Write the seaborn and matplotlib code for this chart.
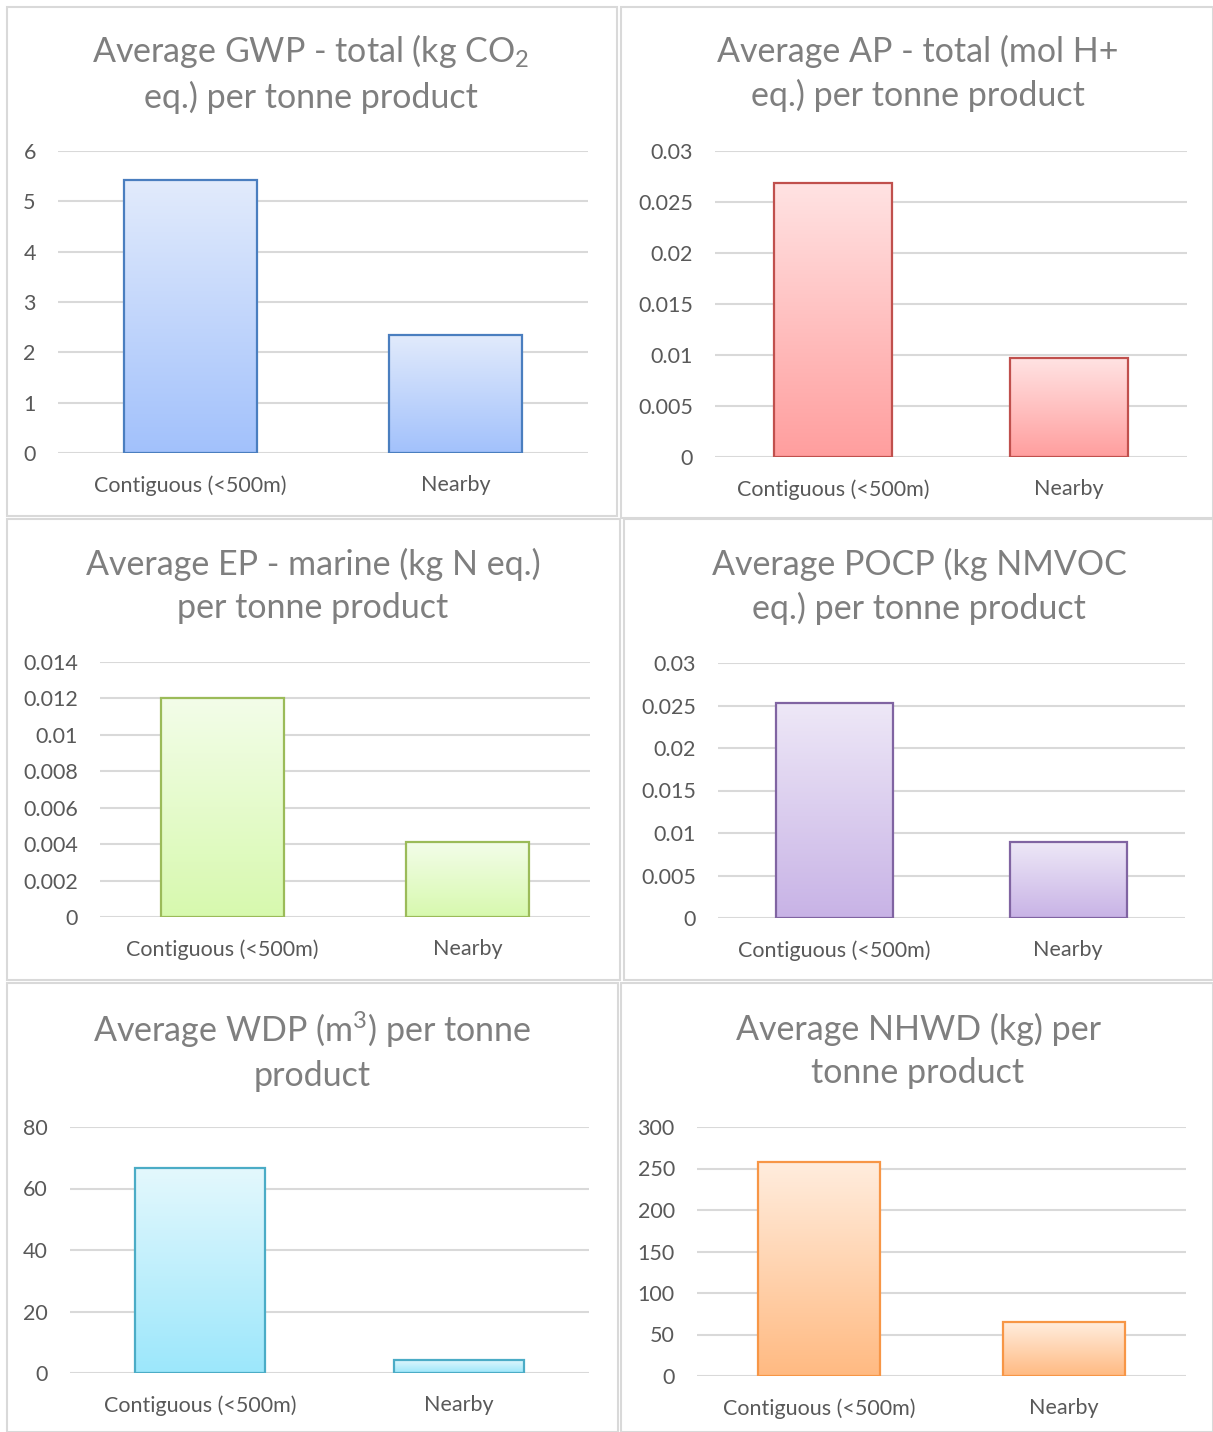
import numpy as np
import pandas as pd
import matplotlib.pyplot as plt
import seaborn as sns
from matplotlib.colors import to_rgb
from matplotlib.patches import Rectangle

# categories and per-panel values
categories = ["Contiguous (<500m)", "Nearby"]
gwp = [5.42, 2.35]
ap = [0.0269, 0.0097]
ep = [0.0120, 0.0041]
pocp = [0.0253, 0.0090]
wdp = [66.8, 4.3]
nhwd = [258, 65]

titles = [
    "Average GWP - total (kg CO$_2$\neq.) per tonne product",
    "Average AP - total (mol H+\neq.) per tonne product",
    "Average EP - marine (kg N eq.)\nper tonne product",
    "Average POCP (kg NMVOC\neq.) per tonne product",
    "Average WDP (m$^3$) per tonne\nproduct",
    "Average NHWD (kg) per\ntonne product",
]
yticks = [
    [0, 1, 2, 3, 4, 5, 6],
    [0, 0.005, 0.01, 0.015, 0.02, 0.025, 0.03],
    [0, 0.002, 0.004, 0.006, 0.008, 0.01, 0.012, 0.014],
    [0, 0.005, 0.01, 0.015, 0.02, 0.025, 0.03],
    [0, 20, 40, 60, 80],
    [0, 50, 100, 150, 200, 250, 300],
]
ytick_labels = [
    ["0", "1", "2", "3", "4", "5", "6"],
    ["0", "0.005", "0.01", "0.015", "0.02", "0.025", "0.03"],
    ["0", "0.002", "0.004", "0.006", "0.008", "0.01", "0.012", "0.014"],
    ["0", "0.005", "0.01", "0.015", "0.02", "0.025", "0.03"],
    ["0", "20", "40", "60", "80"],
    ["0", "50", "100", "150", "200", "250", "300"],
]
series = [gwp, ap, ep, pocp, wdp, nhwd]

# gradient (top, bottom) and outline colours, Excel style
fills = [
    ("#E2EBFC", "#A2C1FB", "#4A7EBF"),
    ("#FFE3E3", "#FF9E9E", "#C0504D"),
    ("#F3FDE9", "#D7F9AE", "#9BBB59"),
    ("#EEE8F7", "#C8B3E6", "#8064A2"),
    ("#E4F8FD", "#9CE7FB", "#4BACC6"),
    ("#FFEDDE", "#FFBA82", "#F79646"),
]

W, H = 1213, 1432
# panel frames (x0, y0, x1, y1) in pixels
frames = [
    (7, 7, 617, 516), (621, 7, 1213, 518),
    (7, 519, 620, 980), (624, 519, 1213, 980),
    (7, 983, 618, 1432), (621, 983, 1213, 1432),
]
# plot areas (x0, ytop, x1, ybottom) in pixels
areas = [
    (58, 151, 588, 453), (715, 151, 1187, 457),
    (100, 662, 590, 917), (718, 663, 1185, 918),
    (70, 1127, 589, 1373), (697, 1127, 1186, 1376),
]
title_pos = [(311, 73), (918, 73), (313, 586), (919, 586), (312, 1051), (918, 1051)]

sns.set_theme(style="white")
plt.rcParams['font.family'] = ['Lato', 'DejaVu Sans']
plt.rcParams['mathtext.fontset'] = 'custom'
plt.rcParams['mathtext.rm'] = 'Lato'
plt.rcParams['mathtext.it'] = 'Lato'

fig = plt.figure(figsize=(W / 100, H / 100), dpi=100)

for i in range(6):
    fx0, fy0, fx1, fy1 = frames[i]
    fig.add_artist(Rectangle((fx0 / W, 1 - fy1 / H), (fx1 - fx0) / W, (fy1 - fy0) / H,
                             transform=fig.transFigure, fill=False,
                             edgecolor="#D9D9D9", linewidth=1.5))
    x0, yt, x1, yb = areas[i]
    ax = fig.add_axes([x0 / W, 1 - yb / H, (x1 - x0) / W, (yb - yt) / H])
    df = pd.DataFrame({"cat": categories, "val": series[i]})
    top, bottom, edge = fills[i]
    sns.barplot(data=df, x="cat", y="val", ax=ax, width=0.5,
                color=top, edgecolor=edge, linewidth=1.6, zorder=3)

    # vertical gradient inside each bar
    grad = np.linspace(np.array(to_rgb(top)), np.array(to_rgb(bottom)), 256)[:, None, :]
    for p in ax.patches:
        bx, by = p.get_x(), p.get_y()
        bw, bh = p.get_width(), p.get_height()
        im = ax.imshow(grad, extent=(bx, bx + bw, by, by + bh), aspect="auto",
                       origin="upper", zorder=2.5, interpolation="bilinear")
        im.set_clip_path(p)
        p.set_facecolor("none")
    ax.set_xlim(-0.5, 1.5)
    ax.set_ylim(yticks[i][0], yticks[i][-1])

    ax.set_yticks(yticks[i])
    ax.set_yticklabels(ytick_labels[i])
    ax.yaxis.grid(True, color="#D9D9D9", linewidth=1.5, zorder=0)
    ax.set_axisbelow(True)
    for s in ax.spines.values():
        s.set_visible(False)
    ax.tick_params(axis="y", length=0, pad=16, labelsize=15.5, labelcolor="#595959")
    ax.tick_params(axis="x", length=0, pad=16, labelsize=15.5, labelcolor="#595959")
    ax.set_xlabel("")
    ax.set_ylabel("")

    tx, ty = title_pos[i]
    fig.text(tx / W, 1 - ty / H, titles[i], ha="center", va="center",
             fontsize=24.5, color="#7F7F7F", linespacing=1.4)

fig.savefig("out.png", dpi=100, facecolor="white")
